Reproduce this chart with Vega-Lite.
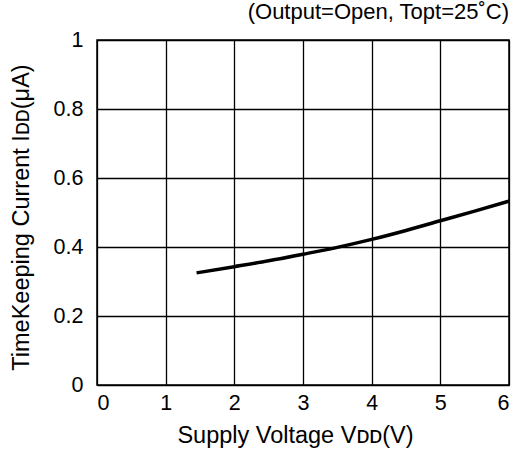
{
  "$schema": "https://vega.github.io/schema/vega-lite/v6.json",
  "autosize": "none",
  "width": 412,
  "height": 345,
  "padding": {"left": 97, "top": 40, "right": 9, "bottom": 68},
  "background": "white",
  "config": {
    "font": "Liberation Sans",
    "view": {"stroke": "black", "strokeWidth": 1.5}
  },
  "title": {
    "text": "(Output=Open, Topt=25˚C)",
    "anchor": "end",
    "fontSize": 22,
    "fontWeight": "normal",
    "color": "black",
    "offset": 5
  },
  "data": {
    "values": [
      {"v": 1.45, "i": 0.325},
      {"v": 2.0, "i": 0.343},
      {"v": 2.5, "i": 0.360},
      {"v": 3.0, "i": 0.379},
      {"v": 3.5, "i": 0.399},
      {"v": 4.0, "i": 0.422},
      {"v": 4.5, "i": 0.448},
      {"v": 5.0, "i": 0.476},
      {"v": 5.5, "i": 0.504},
      {"v": 6.0, "i": 0.533}
    ]
  },
  "mark": {"type": "line", "color": "black", "strokeWidth": 3.5, "interpolate": "monotone", "clip": true},
  "encoding": {
    "x": {
      "field": "v", "type": "quantitative",
      "scale": {"domain": [0, 6], "nice": false},
      "axis": {
        "values": [0, 1, 2, 3, 4, 5, 6],
        "title": "Supply Voltage Vᴅᴅ(V)",
        "titleFontSize": 23.5, "titleFontWeight": "normal", "titleColor": "black", "titlePadding": 10,
        "titleX": 198,
        "labelFontSize": 21.5, "labelColor": "black", "labelPadding": 7,
        "ticks": false, "domain": false,
        "grid": true, "gridColor": "black", "gridWidth": 1.3, "gridOpacity": 1
      }
    },
    "y": {
      "field": "i", "type": "quantitative",
      "scale": {"domain": [0, 1], "nice": false},
      "axis": {
        "values": [0, 0.2, 0.4, 0.6, 0.8, 1],
        "format": "~g",
        "title": "TimeKeeping Current Iᴅᴅ(μA)",
        "titleFontSize": 23.5, "titleFontWeight": "normal", "titleColor": "black", "titlePadding": 20,
        "titleY": 177,
        "labelFontSize": 21.5, "labelColor": "black", "labelPadding": 14,
        "ticks": false, "domain": false,
        "grid": true, "gridColor": "black", "gridWidth": 1.3, "gridOpacity": 1
      }
    }
  }
}
